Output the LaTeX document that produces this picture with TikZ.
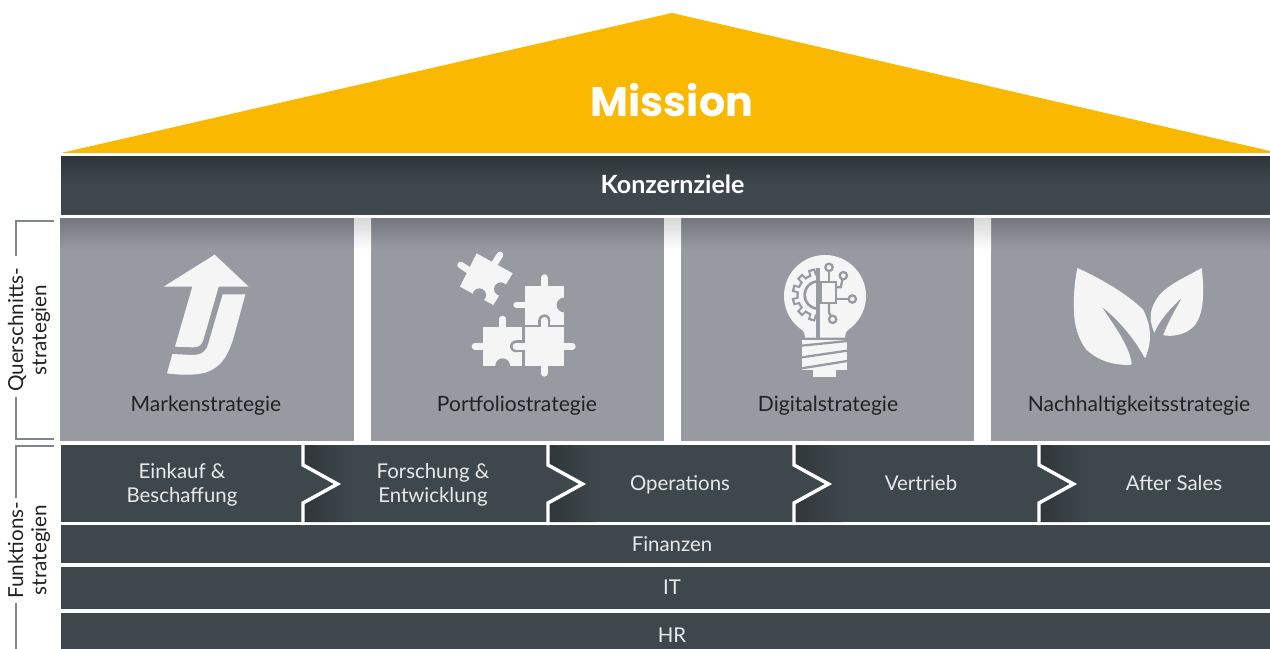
\documentclass[tikz,border=0pt]{standalone}
\usepackage{fontspec}
\setmainfont{Lato}
\newfontfamily\missionfont{Poppins}
\definecolor{roof}{HTML}{FAB800}
\definecolor{band}{HTML}{3E484C}
\definecolor{bandtop}{HTML}{2F3639}
\definecolor{card}{HTML}{979AA1}
\definecolor{cardtop}{HTML}{74777D}
\definecolor{gaptop}{HTML}{D8D8D8}
\definecolor{icon}{HTML}{F5F5F5}
\definecolor{rule}{HTML}{7F868A}
\definecolor{ink}{HTML}{222222}
\definecolor{soft}{HTML}{E8E9E9}
\tikzset{
  bandbox/.style={fill=band},
  cardbox/.style={fill=card},
  toplabel/.style={text=soft,font=\fontsize{15.3}{18}\selectfont,align=center,inner sep=0pt},
  cardlabel/.style={text=ink,font=\fontsize{15.8}{18}\selectfont,inner sep=0pt},
  sidelabel/.style={text=ink,font=\fontsize{15.5}{17.4}\selectfont,align=center,rotate=90,inner sep=0pt},
  bracket/.style={draw=rule,line width=1.5pt},
  chev/.style={draw=white,line width=2.6pt,line join=miter},
  knob/.style={draw=icon,line width=5pt,line cap=round},
  wire/.style={draw=card,line width=1.7pt},
  dot/.style={draw=card,fill=icon,line width=1.7pt},
}
\begin{document}
\begin{tikzpicture}[x=0.75pt,y=-0.75pt]
\useasboundingbox (0,0) rectangle (1270,649);
\fill[white] (0,0) rectangle (1270,649);
% roof
\fill[roof] (61,153) -- (672,13) -- (1270,151) -- (1270,153) -- cycle;
\node[text=white,inner sep=0pt,font=\missionfont\bfseries\fontsize{31}{36}\selectfont] (mission) at (672,100.5) {Mission};
% Konzernziele
\fill[bandbox] (61,157) rectangle (1270,215);
\shade[top color=bandtop,bottom color=band] (61,157) rectangle (1270,185);
\node[text=white,inner sep=0pt,font=\bfseries\fontsize{18.8}{22}\selectfont] (konzern) at (672.5,184) {Konzernziele};
% cards
\foreach \xa/\xb in {60/354,371/664,681/974,991/1270}{
  \fill[cardbox] (\xa,218) rectangle (\xb,441);
  \shade[top color=cardtop,bottom color=card] (\xa,218) rectangle (\xb,250);
}
\foreach \xa/\xb in {354/371,664/681,974/991}{
  \shade[top color=gaptop,bottom color=white] (\xa,218) rectangle (\xb,250);
}
% function bands
\fill[bandbox] (61,445) rectangle (1270,522);
\fill[bandbox] (61,525) rectangle (1270,563);
\fill[bandbox] (61,567) rectangle (1270,609);
\fill[bandbox] (61,613) rectangle (1270,649);
% chevrons
\foreach \c in {303,548,794,1039}{
  \begin{scope}
    \clip (\c,445) -- (\c,465) -- ({\c+34.5},484) -- (\c,503) -- (\c,522) -- ({\c+49},522) -- ({\c+49},445) -- cycle;
    \shade[left color=bandtop,right color=band] (\c,445) rectangle ({\c+49},522);
  \end{scope}
  \draw[chev] (\c,441) -- (\c,465) -- ({\c+34.5},484) -- (\c,503) -- (\c,525);
}
% labels in bands
\node[toplabel] (einkauf) at (182,485) {Einkauf \&\\Beschaffung};
\node[toplabel] (forschung) at (433,485) {Forschung \&\\Entwicklung};
\node[toplabel] (operations) at (680,485) {Operations};
\node[toplabel] (vertrieb) at (921,483.5) {Vertrieb};
\node[toplabel] (aftersales) at (1174,483.5) {After Sales};
\node[toplabel] (finanzen) at (672,544.5) {Finanzen};
\node[toplabel] (it) at (672,587.5) {IT};
\node[toplabel] (hr) at (672,635.5) {HR};
% card labels
\node[cardlabel] (marken) at (206,405.5) {Markenstrategie};
\node[cardlabel] (portfolio) at (517,405.5) {Portfoliostrategie};
\node[cardlabel] (digital) at (828,405.5) {Digitalstrategie};
\node[cardlabel] (nachhaltig) at (1139,405.5) {Nachhaltigkeitsstrategie};
% side brackets
\draw[bracket] (54,221) -- (16,221) -- (16,256);
\draw[bracket] (16,397) -- (16,439) -- (54,439);
\draw[bracket] (54,446) -- (16,446) -- (16,498);
\draw[bracket] (16,603) -- (16,649);
\node[sidelabel] (quer) at (29,330) {Querschnitts-\\strategien};
\node[sidelabel] (funk) at (29,550) {Funktions-\\strategien};
% arrow icon
\begin{scope}[shift={(140,240)},scale=1/3]
  \fill[icon] (224,44) -- (326,140) -- (236,140) -- (190,300) .. controls (184,316) and (175,322) .. (160,322) -- (105,320) -- (157,140) -- (71,140) -- cycle;
  \fill[icon] (248,163) -- (316,163) -- (283,285) .. controls (265,350) and (240,385) .. (195,398) .. controls (160,407) and (120,405) .. (81,400) -- (97,342) -- (155,345) .. controls (190,345) and (200,330) .. (205,310) -- cycle;
\end{scope}
% puzzle icon
\begin{scope}[shift={(450,245)},scale=1/3]
  % loose piece
  \fill[icon] (80,25) -- (188,85) -- (130,180) -- (30,125) -- cycle;
  \draw[knob] (134,55) -- (150,30);
  \draw[knob] (55,75) -- (32,60);
  \fill[card] (88,150) circle [radius=20];
  \fill[card] (152,132) circle [radius=20];
  % upper right piece
  \fill[icon] (225,122) rectangle (342,240);
  \draw[knob] (283,122) -- (283,98);
  \draw[knob] (225,180) -- (200,180);
  \fill[card] (342,180) circle [radius=22];
  \fill[card] (283,226) circle [radius=18];
  \fill[card] (265,226) rectangle (301,247);
  % lower left piece
  \fill[icon] (100,247) rectangle (217,362);
  \draw[knob] (158,247) -- (158,222);
  \draw[knob] (100,304) -- (75,304);
  \fill[card] (158,362) circle [radius=22];
  \fill[card] (198,304) circle [radius=18];
  \fill[card] (198,286) rectangle (225,322);
  % lower right piece
  \fill[icon] (225,247) rectangle (342,362);
  \draw[knob] (283,247) -- (283,226);
  \draw[knob] (342,304) -- (367,304);
  \draw[knob] (283,362) -- (283,385);
  \draw[knob] (225,304) -- (198,304);
\end{scope}
% bulb icon
\begin{scope}[shift={(770,245)},scale=1/3]
  \fill[icon] (165,153) circle [radius=123];
  \fill[icon] (72,233) .. controls (95,250) and (105,258) .. (105,278) -- (225,278) .. controls (225,258) and (235,250) .. (258,233) -- cycle;
  \fill[icon] (95,285) rectangle (232,375);
  \fill[icon] (130,375) rectangle (197,397);
  \draw[draw=card,line width=1.7pt] (95,302) -- (232,288);
  \draw[draw=card,line width=1.7pt] (95,337) -- (232,317);
  \draw[draw=card,line width=1.7pt] (95,370) -- (232,348);
  % gear
  \begin{scope}
    \clip (0,0) rectangle (145,300);
    \fill[card] (145,150) circle [radius=66];
    \foreach \a in {105,135,165,195,225,255}{
      \fill[card,shift={(145,150)},rotate=\a] (60,-11) rectangle (80,11);
    }
    \fill[icon] (145,150) circle [radius=59];
    \foreach \a in {105,135,165,195,225,255}{
      \fill[icon,shift={(145,150)},rotate=\a] (55,-5) rectangle (73,5);
    }
    \fill[card] (145,150) circle [radius=45];
    \fill[icon] (145,150) circle [radius=37];
  \end{scope}
  \fill[card] (139,70) rectangle (151,285);
  % circuit
  \draw[wire,fill=icon] (152,112) rectangle (198,173);
  \draw[wire] (177,67) -- (177,112);
  \draw[wire] (220,92) -- (212,127) -- (198,127);
  \draw[wire] (247,162) -- (198,162);
  \draw[wire] (177,173) -- (177,203) -- (188,223);
  \draw[dot] (177,67) circle [radius=11];
  \draw[dot] (220,92) circle [radius=11];
  \draw[dot] (247,162) circle [radius=11];
  \draw[dot] (188,223) circle [radius=11];
\end{scope}
% leaves icon
\begin{scope}[shift={(1050,250)},scale=1/3]
  \fill[icon] (82,54) .. controls (150,85) and (230,130) .. (280,180) .. controls (300,220) and (310,270) .. (285,325) .. controls (250,260) and (200,205) .. (155,170) .. controls (190,225) and (235,280) .. (245,340) -- (240,345) .. controls (190,345) and (150,335) .. (110,300) .. controls (85,270) and (72,225) .. (72,180) .. controls (70,130) and (75,90) .. (82,54) -- cycle;
  \fill[icon] (455,54) .. controls (400,85) and (340,110) .. (318,150) .. controls (295,185) and (300,220) .. (313,248) .. controls (330,210) and (360,175) .. (397,142) .. controls (375,180) and (350,225) .. (340,255) .. controls (345,258) and (400,265) .. (435,225) .. controls (465,185) and (462,110) .. (455,54) -- cycle;
\end{scope}
\end{tikzpicture}
\end{document}
